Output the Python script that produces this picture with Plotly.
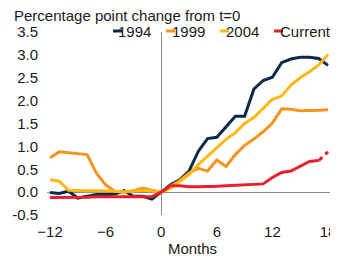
import plotly.graph_objects as go

months = list(range(-12, 19))
s1994 = [-0.01, -0.03, 0.02, -0.13, -0.09, -0.05, -0.05, -0.04, 0.03, -0.09, -0.09, -0.15, 0.0,
         0.16, 0.27, 0.46, 0.89, 1.17, 1.20, 1.42, 1.66, 1.66, 2.25, 2.44, 2.51, 2.83, 2.91, 2.95, 2.95, 2.92, 2.77]
s1999 = [0.75, 0.88, 0.86, 0.84, 0.82, 0.42, 0.16, 0.02, 0.0, 0.03, 0.09, 0.04, 0.0,
         0.13, 0.25, 0.42, 0.52, 0.46, 0.70, 0.56, 0.82, 1.02, 1.16, 1.32, 1.51, 1.82, 1.81, 1.78, 1.78, 1.79, 1.80]
s2004 = [0.27, 0.24, 0.04, 0.03, 0.03, 0.03, 0.03, 0.02, 0.01, 0.03, 0.04, 0.03, 0.0,
         0.08, 0.24, 0.38, 0.60, 0.78, 0.97, 1.15, 1.30, 1.50, 1.63, 1.82, 2.03, 2.10, 2.34, 2.50, 2.63, 2.78, 3.01]
current = [-0.12, -0.12, -0.12, -0.11, -0.11, -0.10, -0.10, -0.10, -0.10, -0.10, -0.10, -0.10, 0.0,
           0.14, 0.14, 0.12, 0.12, 0.12, 0.13, 0.14, 0.15, 0.16, 0.17, 0.18, 0.32, 0.43, 0.46, 0.57, 0.67, 0.69, 0.88]

series_names = ["1994", "1999", "2004", "Current"]
colors = ["#0b2a4a", "#f7941d", "#fdb813", "#e8202a"]
x_ticks = [-12, -6, 0, 6, 12, 18]
y_ticks = [-0.5, 0.0, 0.5, 1.0, 1.5, 2.0, 2.5, 3.0, 3.5]
y_tick_text = ["-0.5", "0.0", "0.5", "1.0", "1.5", "2.0", "2.5", "3.0", "3.5"]

FONT = "Liberation Sans, Arial, sans-serif"
TXT = "#1a1a1a"

fig = go.Figure()
for name, vals, col in zip(series_names[:3], [s1994, s1999, s2004], colors[:3]):
    fig.add_trace(go.Scatter(x=months, y=vals, mode="lines", name=name,
                             line=dict(color=col, width=3), showlegend=False))
# current: solid up to the latest-but-one point, dashed last step
fig.add_trace(go.Scatter(x=months[:-1], y=current[:-1], mode="lines", name="Current",
                         line=dict(color=colors[3], width=3), showlegend=False))
fig.add_trace(go.Scatter(x=months[-2:], y=current[-2:], mode="lines", name="Current",
                         line=dict(color=colors[3], width=3, dash="5px,4px"), showlegend=False))

# page body has an 8px default margin: figure occupies window pixels 8..338
OFF = 8
W, H = 338 - OFF, 258 - OFF
L, R, T, B = 47 - OFF, 0, 32 - OFF, 43
pw, ph = W - L - R, H - T - B

def px2paper_x(px):
    return (px - OFF - L) / pw

def px2paper_y(py):
    return (H - B - (py - OFF)) / ph

# legend built from annotations + short line keys (reference window pixels)
leg_dash = [(113, 122), (166, 175), (220, 229), (274, 283)]
leg_text = [123, 177, 231, 285]
ly = px2paper_y(31)
for (a, b), tx, name, col in zip(leg_dash, leg_text, series_names, colors):
    fig.add_shape(type="line", xref="paper", yref="paper",
                  x0=px2paper_x(a), x1=px2paper_x(b), y0=ly, y1=ly,
                  line=dict(color=col, width=3))
    fig.add_annotation(x=px2paper_x(tx), y=ly, xref="paper", yref="paper",
                       text=name, showarrow=False, xanchor="left", yanchor="middle",
                       xshift=-6,
                       font=dict(family=FONT, size=15, color=TXT), borderpad=0)

fig.update_layout(
    width=W, height=H,
    margin=dict(l=L, r=R, t=T, b=B, pad=0),
    paper_bgcolor="white", plot_bgcolor="white",
    font=dict(family=FONT, size=15, color=TXT),
    title=dict(text="Percentage point change from t=0", xref="container", yref="container",
               x=(14 - OFF) / W, xanchor="left", y=1 - (16 - OFF) / H, yanchor="middle",
               font=dict(family=FONT, size=15, color=TXT)),
    xaxis=dict(range=[-12.324, 19.08], tickvals=x_ticks, showgrid=False,
               zeroline=True, zerolinecolor="#8c8c8c", zerolinewidth=1,
               showline=False, ticks="", ticklabelstandoff=6,
               title=dict(text="Months", standoff=2, font=dict(size=15))),
    yaxis=dict(range=[-0.5, 3.5], tickvals=y_ticks, ticktext=y_tick_text, showgrid=False,
               zeroline=True, zerolinecolor="#8c8c8c", zerolinewidth=1,
               showline=False, ticks="", ticklabelstandoff=8),
    showlegend=False,
)

fig.write_html("out.html")
